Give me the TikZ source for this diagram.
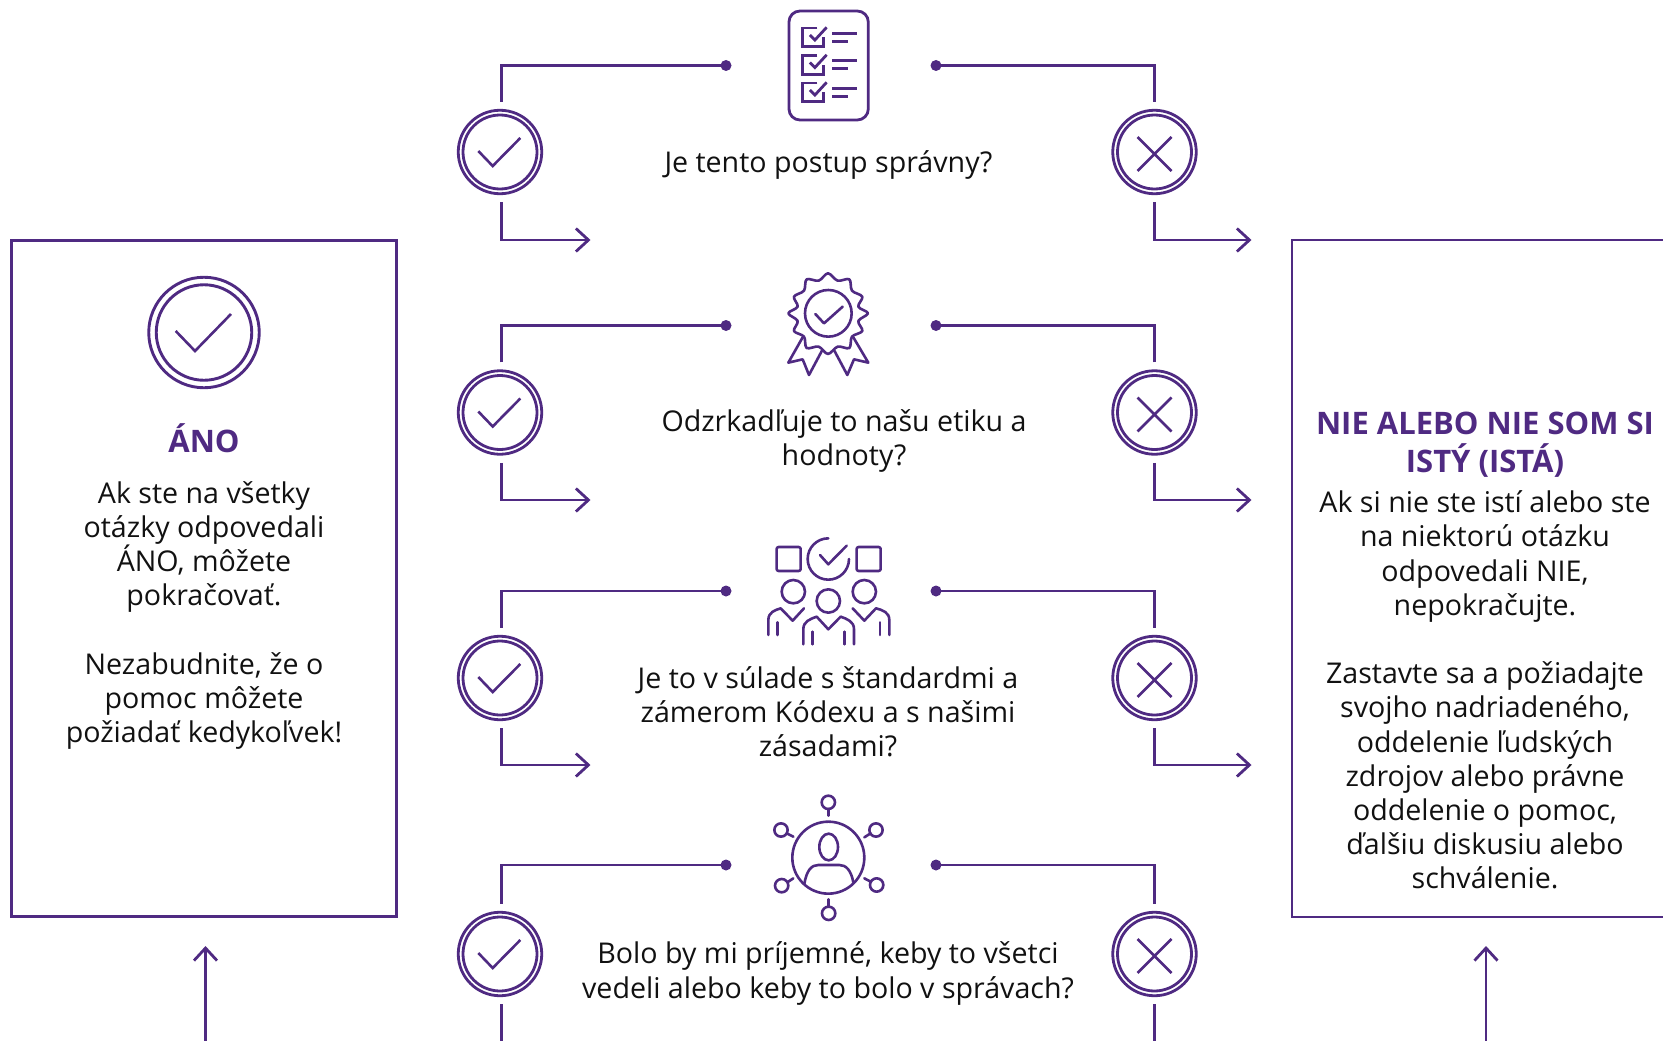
\documentclass[tikz,border=0pt]{standalone}
\usepackage{fontspec}
\setmainfont{Open Sans}
\usetikzlibrary{arrows.meta}
\definecolor{brand}{HTML}{4F2A82}
\definecolor{ink}{HTML}{111111}
\tikzset{
  ln/.style={draw=brand,line width=2.8pt},
  thin ln/.style={draw=brand,line width=2.6pt},
  ico/.style={draw=brand,line width=2.6pt,line cap=round,line join=round},
  dotn/.style={circle,fill=brand,inner sep=0pt,minimum size=11pt},
  ringo/.style={circle,draw=brand,line width=2.8pt,inner sep=0pt,minimum size=83.5pt,outer sep=8.5pt},
  ringi/.style={circle,draw=brand,line width=2.8pt,inner sep=0pt,minimum size=74pt},
  barb/.style={-{Straight Barb[length=12.5pt,width=23pt,line width=2.8pt]}},
  txt/.style={font=\fontsize{28.6}{34.2}\selectfont,text=ink,align=center,inner sep=0pt},
  ttl/.style={font=\fontsize{31}{37.5}\selectfont\bfseries,text=brand,align=center,inner sep=0pt}
}
\newcommand{\YesMark}[1]{\draw[thin ln,line join=miter] ([shift={(-21.7,-1)}]#1.center) -- ([shift={(-7.3,14)}]#1.center) -- ([shift={(20.3,-14)}]#1.center);}
\newcommand{\NoMark}[1]{\draw[thin ln] ([shift={(-17,-15)}]#1.center) -- ([shift={(17,19)}]#1.center) ([shift={(17,-15)}]#1.center) -- ([shift={(-17,19)}]#1.center);}
% #1 row id, #2 circle y, #3 upper line y
\newcommand{\QRow}[3]{%
  \node[ringo] (yes#1) at (500,#2) {}; \node[ringi] (yesi#1) at (500,#2) {}; \YesMark{yes#1}
  \node[ringo] (no#1) at (1154.5,#2) {}; \node[ringi] (noi#1) at (1154.5,#2) {}; \NoMark{no#1}
  \node[dotn] (dl#1) at (726,#3) {};
  \node[dotn] (dr#1) at (936,#3) {};
  \draw[ln] ([xshift=1.5pt]yes#1.north) |- (dl#1.center);
  \draw[ln] (no#1.north) |- (dr#1.center);
}
% #1 row id, #2 lower line y
\newcommand{\QOut}[2]{%
  \coordinate (ay#1) at (590.5,#2); \coordinate (an#1) at (1251.5,#2);
  \draw[ln,barb] ([xshift=1.5pt]yes#1.south) |- (ay#1);
  \draw[ln,barb] (no#1.south) |- (an#1);
}
\begin{document}
\begin{tikzpicture}[x=1pt,y=-1pt]
\useasboundingbox (0,0) rectangle (1663,1041);
\clip (0,0) rectangle (1663,1041);

% Side boxes
\node[draw=brand,line width=2.8pt,inner sep=0pt,minimum width=385.5pt,minimum height=675.5pt] (boxyes) at (204,578.5) {};
\draw[ln] (1663,240) -- (1292,240) -- (1292,917) -- (1663,917);
\coordinate (boxno) at (1292,578.5);

\node[circle,draw=brand,line width=2.9pt,inner sep=0pt,minimum size=110.5pt] (bigo) at (204,332.5) {};
\node[circle,draw=brand,line width=2.9pt,inner sep=0pt,minimum size=95.5pt] (bigi) at (204,332.5) {};
\draw[thin ln] (175.7,331) -- (195,351) -- (231,314);

\node[ttl] (tyes) at (204,438) {ÁNO};
\node[txt] (byes) at (204,615.5) {Ak ste na všetky\\otázky odpovedali\\ÁNO, môžete\\pokračovať.\\[34.2pt]Nezabudnite, že o\\pomoc môžete\\požiadať kedykoľvek!};
\node[ttl] (tno) at (1485,444.5) {NIE ALEBO NIE SOM SI\\ISTÝ (ISTÁ)};
\node[txt] (bno) at (1485,690) {Ak si nie ste istí alebo ste\\na niektorú otázku\\odpovedali NIE,\\nepokračujte.\\[34.2pt]Zastavte sa a požiadajte\\svojho nadriadeného,\\oddelenie ľudských\\zdrojov alebo právne\\oddelenie o pomoc,\\ďalšiu diskusiu alebo\\schválenie.};

% Question rows
\QRow{1}{152}{65.5}\QOut{1}{240}
\QRow{2}{412.5}{325.5}\QOut{2}{500}
\QRow{3}{678}{591}\QOut{3}{765}
\QRow{4}{954}{865}
\coordinate (endy) at (501.5,1041); \coordinate (endn) at (1154.5,1041);
\draw[ln] ([xshift=1.5pt]yes4.south) -- (endy);
\draw[ln] (no4.south) -- (endn);

% Up arrows
\coordinate (upa) at (205.5,1041); \coordinate (upb) at (205.5,946);
\coordinate (upc) at (1486,1041); \coordinate (upd) at (1486,946);
\draw[ln,barb] (upa) -- (upb);
\draw[ln,barb] (upc) -- (upd);

% Questions
\node[txt] (q1) at (828.5,165) {Je tento postup správny?};
\node[txt] (q2) at (844,441) {Odzrkadľuje to našu etiku a\\hodnoty?};
\node[txt] (q3) at (828,711.5) {Je to v súlade s štandardmi a\\zámerom Kódexu a s našimi\\zásadami?};
\node[txt] (q4) at (828,973.5) {Bolo by mi príjemné, keby to všetci\\vedeli alebo keby to bolo v správach?};

% Icon 1: checklist
\begin{scope}[shift={(440,0)},x=0.3333pt,y=-0.3333pt]
\draw[ln,rounded corners=11pt] (1047,33) rectangle (1285,360);
\foreach \r in {0,82.5,165}{
  \begin{scope}[yshift=-\r*0.3333pt]
  \draw[draw=brand,line width=2.8pt,line join=miter] (1132,84) -- (1088,84) -- (1088,140) -- (1150,140) -- (1150,112);
  \draw[draw=brand,line width=2.8pt] (1110,105) -- (1125,120) -- (1160,82);
  \draw[draw=brand,line width=2.8pt] (1177,100) -- (1252,100) (1177,124) -- (1224,124);
  \end{scope}
}
\end{scope}

% Icon 2: badge
\begin{scope}[shift={(740,260)},x=0.3333pt,y=-0.3333pt]
\draw[ico] (188,232) -- (145,308) -- (188,298) -- (207,345) -- (247,270);
\draw[ico] (340,232) -- (385,308) -- (342,298) -- (322,345) -- (282,270);
\draw[ico,fill=white] plot[smooth cycle,tension=0.55] coordinates {
 (264,40) (293,62) (328,58) (336,92) (367,110) (355,140) (384,160)
 (355,183) (367,213) (336,230) (328,264) (293,260) (264,282)
 (236,260) (200,264) (192,230) (162,213) (173,183) (145,160)
 (173,140) (162,110) (192,92) (200,58) (236,62)};
\draw[ico] (265,160) circle[radius=70];
\draw[ico] (226,162) -- (252,190) -- (308,140);
\end{scope}

% Icon 3: team
\begin{scope}[shift={(740,525)},x=0.3333pt,y=-0.3333pt]
\draw[ico,rounded corners=2pt] (110,66) rectangle (182,138);
\draw[ico,rounded corners=2pt] (350,66) rectangle (422,138);
\draw[ico] (265,40) arc[start angle=270,end angle=0,radius=62];
\draw[ico] (240,90) -- (265,118) -- (320,62);
\draw[ico] (160,200) circle[radius=35];
\draw[ico] (265,228) circle[radius=35];
\draw[ico] (373,200) circle[radius=35];
\draw[ico] (85,330) -- (85,285) .. controls (85,262) and (105,255) .. (122,250) -- (158,287) -- (192,250);
\draw[ico] (112,292) -- (112,330);
\draw[ico] (190,358) -- (190,312) .. controls (190,290) and (210,282) .. (230,275) -- (265,313) -- (302,275) .. controls (322,282) and (342,290) .. (342,312) -- (342,358);
\draw[ico] (218,320) -- (218,358) (313,320) -- (313,358);
\draw[ico] (338,250) -- (373,287) -- (408,250) .. controls (428,255) and (448,262) .. (448,285) -- (448,330);
\draw[ico] (420,292) -- (420,330);
\end{scope}

% Icon 4: network
\begin{scope}[shift={(750,785)},x=0.3333pt,y=-0.3333pt]
\draw[ico] (235,218) circle[radius=108];
\draw[ico] (236,186) ellipse[x radius=28,y radius=40];
\draw[ico] (163,297) .. controls (170,255) and (185,240) .. (205,240) -- (268,240) .. controls (288,240) and (303,255) .. (310,292);
\foreach \cx/\cy/\ax/\ay/\bx/\by in {235/52/235/72/235/92, 236/385/236/343/236/365, 93/135/110/145/130/155, 378/135/362/145/343/157, 95/302/112/292/130/280, 380/300/362/290/343/280}{
  \draw[ico] (\cx,\cy) circle[radius=20];
  \draw[ico] (\ax,\ay) -- (\bx,\by);
}
\end{scope}
\end{tikzpicture}
\end{document}
